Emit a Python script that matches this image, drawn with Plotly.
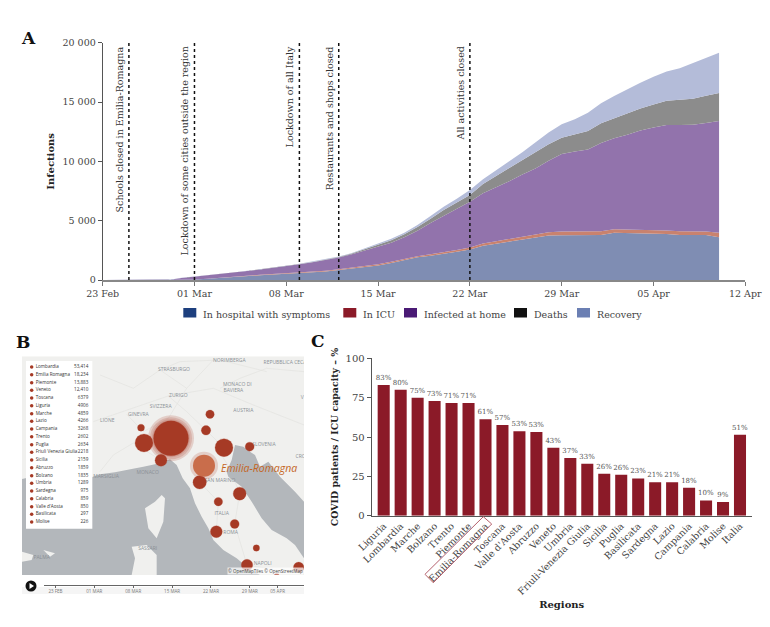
import plotly.graph_objects as go

W, H = 770, 627
SERIF = "DejaVu Serif"
SANS = "Open Sans"

# ---- panel A data: top edge of each stacked band
dates = ["2020-02-23", "2020-02-24", "2020-02-25", "2020-02-26", "2020-02-27", "2020-02-28", "2020-02-29"]
dates += ["2020-03-%02d" % d for d in range(1, 32)]
dates += ["2020-04-%02d" % d for d in range(1, 11)]

hospital_top = [0, 0, 0, 0, 0, 0, 10, 40, 100, 190, 260, 330, 400, 460, 520, 580, 650, 720, 840, 950, 1100, 1230,
                1430, 1660, 1910, 2050, 2190, 2390, 2580, 2890, 3060, 3230, 3430, 3570, 3760, 3780, 3790, 3770,
                3800, 3980, 3960, 3930, 3890, 3870, 3800, 3800, 3790, 3600]
icu_top = [0, 0, 0, 0, 0, 0, 15, 50, 115, 215, 290, 360, 435, 500, 560, 630, 705, 780, 910, 1030, 1190, 1330,
           1540, 1780, 2010, 2170, 2320, 2530, 2730, 3080, 3270, 3470, 3680, 3830, 4030, 4090, 4100, 4080,
           4110, 4270, 4260, 4220, 4180, 4170, 4100, 4090, 4090, 3990]
home_top = [0, 0, 0, 0, 0, 0, 160, 270, 365, 490, 620, 750, 880, 1010, 1150, 1320, 1500, 1690, 1890, 2170, 2500, 2790,
            3130, 3600, 4150, 4800, 5400, 5980, 6600, 7300, 7800, 8330, 8900, 9400, 10050, 10620, 10830, 11000,
            11550, 11950, 12250, 12600, 12860, 13060, 13070, 13090, 13220, 13400]
deaths_top = [0, 0, 0, 0, 0, 0, 170, 275, 372, 497, 630, 760, 890, 1025, 1165, 1340, 1525, 1725, 1935, 2235, 2610, 2940,
              3350, 3850, 4460, 5170, 5900, 6540, 7160, 8090, 8750, 9400, 10100, 10750, 11450, 11990, 12300, 12560,
              13200, 13620, 14050, 14450, 14800, 15110, 15180, 15280, 15520, 15760]
recovery_top = [0, 0, 0, 0, 0, 0, 180, 280, 380, 505, 640, 770, 900, 1040, 1180, 1360, 1545, 1750, 1970, 2280, 2680, 3030,
                3480, 3990, 4630, 5390, 6180, 6850, 7580, 8480, 9210, 10000, 10760, 11570, 12420, 13120, 13540, 14100,
                14890, 15500, 16070, 16630, 17130, 17560, 17840, 18260, 18740, 19160]

band_names = ["In hospital with symptoms", "In ICU", "Infected at home", "Deaths", "Recovery"]
band_fill = ["#7f8db3", "#c9826e", "#9273ac", "#8c8c8c", "#b4bcd9"]
band_swatch = ["#1d3f7e", "#8b1a28", "#4a1a75", "#111111", "#6b7fb3"]
swatch_left = [183.3, 343.3, 404, 514, 577]

event_dates = ["2020-02-25", "2020-03-01", "2020-03-09", "2020-03-12", "2020-03-22"]
event_labels = ["Schools closed in Emilia-Romagna", "Lockdown of some cities outside the region",
                "Lockdown of all Italy", "Restaurants and shops closed", "All activities closed"]
date_ticks = ["2020-02-23", "2020-03-01", "2020-03-08", "2020-03-15", "2020-03-22", "2020-03-29", "2020-04-05", "2020-04-12"]

# ---- panel B data: the map is read in the reference's own map units
region_names = ["Lombardia", "Emilia Romagna", "Piemonte", "Veneto", "Toscana", "Liguria", "Marche", "Lazio", "Campania",
                "Trento", "Puglia", "Friuli Venezia Giulia", "Sicilia", "Abruzzo", "Bolzano", "Umbria", "Sardegna",
                "Calabria", "Valle d'Aosta", "Basilicata", "Molise"]
region_cases = ["53,414", "18,234", "13,883", "12,410", "6379", "4906", "4859", "4266", "3268", "2602", "2634", "2218",
                "2159", "1859", "1835", "1289", "975", "859", "850", "297", "226"]
list_y = [126, 149, 173, 196, 219, 242, 266, 289, 312, 335, 359, 382, 405, 428, 452, 475, 498, 521, 545, 568, 591]

bubble_x = [513, 432, 672, 599, 483, 719, 649, 741, 618, 896, 749, 704, 630, 655, 423, 769, 830]
bubble_y = [340, 354, 368, 472, 406, 506, 620, 720, 316, 727, 365, 597, 268, 530, 308, 669, 752]
bubble_size = [35, 18, 18, 13.5, 12, 13, 12, 11.5, 9.5, 10.5, 9, 9, 8.5, 8.5, 7, 6.5, 5]
halo_x = [513, 513, 513, 612]
halo_y = [340, 340, 340, 422]
halo_size = [46, 42, 38, 28]

sea_x = [66, 110, 170, 225, 270, 300, 345, 395, 430, 465, 490, 510, 530, 548, 570, 585, 605, 625, 640, 670, 710, 740, 780, 66, 66, None,
         705, 695, 680, 685, 725, 755, 785, 815, 860, 885, 912, 912, 885, 840, 805, 780, 765, 750, 730, 705]
sea_y = [462, 452, 455, 462, 458, 448, 442, 432, 425, 418, 410, 403, 420, 460, 490, 535, 575, 610, 645, 675, 700, 725, 750, 750, 462, None,
         360, 405, 440, 455, 485, 530, 580, 615, 640, 660, 700, 530, 500, 455, 410, 425, 390, 380, 365, 360]
island_x = [485, 495, 490, 470, 445, 435, 465, 485, None, 395, 440, 470, 470, 395, 405, 395, None, 66, 100, 95, 66, 66, None, 130, 165, 150, 130]
island_y = [510, 520, 590, 640, 610, 550, 530, 510, None, 665, 660, 690, 750, 750, 700, 665, None, 680, 690, 705, 710, 680, None, 675, 685, 695, 675]
road_x = [280, 370, 505, 640, 760, 912, None, 300, 400, 480, 560, 640, None, 505, 560, 618, 672, None, 650, 690, 719, 704, 741, 830, None,
          640, 600, 599, 655, 649, None, 300, 340, 400, 483, None, 660, 720, 800, 912, None, 480, 540, 660, 800, None, 560, 505, 430, 380]
road_y = [290, 260, 213, 190, 240, 300, None, 150, 190, 135, 190, 105, None, 213, 260, 316, 368, None, 368, 430, 506, 597, 720, 735, None,
          420, 472, 472, 530, 620, None, 440, 390, 354, 406, None, 190, 160, 130, 140, None, 135, 110, 105, 140, None, 190, 280, 320, 268]
map_labels = ["NORIMBERGA", "REPUBBLICA CECA", "STRASBURGO", "MONACO DI", "BAVIERA", "ZURIGO", "SVIZZERA", "AUSTRIA", "GINEVRA",
              "LIONE", "SLOVENIA", "MONACO", "MARSIGLIA", "SAN MARINO", "ITALIA", "ROMA", "SASSARI", "NAPOLI", "PALMA", "CRO", "V"]
map_label_x = [688, 855, 522, 712, 700, 535, 482, 730, 415, 322, 792, 443, 318, 660, 665, 692, 443, 788, 125, 902, 907]
map_label_y = [106, 112, 135, 180, 198, 213, 244, 257, 268, 287, 358, 442, 454, 468, 565, 622, 671, 717, 698, 396, 219]

timeline_ticks = ["2020-02-23", "2020-03-01", "2020-03-08", "2020-03-15", "2020-03-22", "2020-03-29", "2020-04-03"]
timeline_labels = ["23 FEB", "01 MAR", "08 MAR", "15 MAR", "22 MAR", "29 MAR", "05 APR"]

# ---- panel C data
icu_regions = ["Liguria", "Lombardia", "Marche", "Bolzano", "Trento", "Piemonte", "Emilia-Romagna", "Toscana", "Valle d'Aosta",
               "Abruzzo", "Veneto", "Umbria", "Friuli-Venezia Giulia", "Sicilia", "Puglia", "Basilicata", "Sardegna", "Lazio",
               "Campania", "Calabria", "Molise", "Italia"]
icu_share = [83, 80, 75, 72.8, 71.6, 71.6, 61.2, 57.6, 53.6, 53.2, 43.2, 36.7, 33, 26.7, 26, 23.7, 21.2, 21.2, 17.8, 9.7, 8.7, 51.5]
icu_labels = ["83%", "80%", "75%", "73%", "71%", "71%", "61%", "57%", "53%", "53%", "43%", "37%", "33%", "26%", "26%", "23%",
              "21%", "21%", "18%", "10%", "9%", "51%"]


def fx(px):
    return px / W


def fy(py):
    return 1 - py / H


fig = go.Figure()

# panel A
band_tops = [hospital_top, icu_top, home_top, deaths_top, recovery_top]
for i in range(5):
    fig.add_trace(go.Scatter(x=dates, y=band_tops[i], mode="lines", line=dict(width=0), fill="tozeroy" if i == 0 else "tonexty",
                             fillcolor=band_fill[i], showlegend=False, hoverinfo="skip", xaxis="x", yaxis="y"))

annotations = []
shapes = []
for d, label in zip(event_dates, event_labels):
    shapes.append(dict(type="line", xref="x", yref="paper", x0=d, x1=d, y0=fy(280), y1=fy(42.7),
                       line=dict(color="#111111", width=1.5, dash="dot")))
    annotations.append(dict(x=d, xref="x", y=fy(44), yref="paper", text=label, textangle=-90, showarrow=False,
                            xanchor="right", yanchor="top", xshift=-2, font=dict(family=SERIF, size=9.5, color="#333333")))

# legend row under panel A
for i in range(5):
    shapes.append(dict(type="rect", xref="paper", yref="paper", x0=fx(swatch_left[i]), x1=fx(swatch_left[i] + 13),
                       y0=fy(317.5), y1=fy(308), fillcolor=band_swatch[i], line=dict(width=0)))
    annotations.append(dict(x=fx(swatch_left[i] + 18), y=fy(314), xref="paper", yref="paper", text=band_names[i], showarrow=False,
                            xanchor="left", font=dict(family=SERIF, size=9.5, color="#444444")))

# panel B
fig.add_trace(go.Scatter(x=[66, 912, 912, 66, 66], y=[94, 94, 750, 750, 94], mode="none", fill="toself", fillcolor="#f0f0ee",
                         showlegend=False, hoverinfo="skip", xaxis="x3", yaxis="y3"))
fig.add_trace(go.Scatter(x=road_x, y=road_y, mode="lines", line=dict(color="#e0e0de", width=0.6),
                         showlegend=False, hoverinfo="skip", xaxis="x3", yaxis="y3"))
fig.add_trace(go.Scatter(x=sea_x, y=sea_y, mode="none", fill="toself", fillcolor="#b3b7bb",
                         showlegend=False, hoverinfo="skip", xaxis="x3", yaxis="y3"))
fig.add_trace(go.Scatter(x=island_x, y=island_y, mode="none", fill="toself", fillcolor="#f0f0ee",
                         showlegend=False, hoverinfo="skip", xaxis="x3", yaxis="y3"))
fig.add_trace(go.Scatter(x=map_label_x, y=map_label_y, mode="text", text=map_labels, textposition="middle center",
                         textfont=dict(family=SANS, size=5, color="#8b9096"), showlegend=False, hoverinfo="skip",
                         xaxis="x3", yaxis="y3"))
fig.add_trace(go.Scatter(x=halo_x, y=halo_y, mode="markers",
                         marker=dict(size=halo_size, opacity=1, color="rgba(175,70,50,0.2)", line=dict(width=0)),
                         showlegend=False, hoverinfo="skip", xaxis="x3", yaxis="y3"))
fig.add_trace(go.Scatter(x=bubble_x, y=bubble_y, mode="markers",
                         marker=dict(size=bubble_size, opacity=1, color="#a63a25", line=dict(width=0.5, color="rgba(175,70,50,0.5)")),
                         showlegend=False, hoverinfo="skip", xaxis="x3", yaxis="y3"))
fig.add_trace(go.Scatter(x=[612], y=[422], mode="markers", marker=dict(size=22, opacity=1, color="#c96d4b", line=dict(width=0)),
                         showlegend=False, hoverinfo="skip", xaxis="x3", yaxis="y3"))
fig.add_trace(go.Scatter(x=[78, 277, 277, 78, 78], y=[108, 108, 611, 611, 108], mode="none", fill="toself", fillcolor="#ffffff",
                         showlegend=False, hoverinfo="skip", xaxis="x3", yaxis="y3"))
fig.add_trace(go.Scatter(x=[95] * 21, y=list_y, mode="markers", marker=dict(size=3.5, color="#a63a25"),
                         showlegend=False, hoverinfo="skip", xaxis="x3", yaxis="y3"))
fig.add_trace(go.Scatter(x=[107] * 21, y=list_y, mode="text", text=region_names, textposition="middle right",
                         textfont=dict(family=SANS, size=4.6, color="#333333"), showlegend=False, hoverinfo="skip",
                         xaxis="x3", yaxis="y3"))
fig.add_trace(go.Scatter(x=[265] * 21, y=list_y, mode="text", text=region_cases, textposition="middle left",
                         textfont=dict(family=SANS, size=4.6, color="#333333"), showlegend=False, hoverinfo="skip",
                         xaxis="x3", yaxis="y3"))
annotations.append(dict(x=657, xref="x3", y=430, yref="y3", text="<i>Emilia-Romagna</i>", showarrow=False, xanchor="left",
                        font=dict(family=SANS, size=10.5, color="#c4651f")))
annotations.append(dict(x=fx(303.5), xref="paper", y=fy(575), yref="paper", text="© OpenMapTiles © OpenStreetMap", showarrow=False,
                        xanchor="right", yanchor="bottom", bgcolor="rgba(255,255,255,0.7)", borderpad=0,
                        font=dict(family=SANS, size=4.5, color="#444444")))

# timeline strip below the map
shapes.append(dict(type="rect", xref="paper", yref="paper", x0=fx(22), x1=fx(304), y0=fy(594), y1=fy(587),
                   fillcolor="#f5f5f5", line=dict(width=0), layer="below"))
shapes.append(dict(type="circle", xref="paper", yref="paper", x0=fx(25.5), x1=fx(36.5), y0=fy(591.5), y1=fy(580.5),
                   fillcolor="#111111", line=dict(width=0)))
shapes.append(dict(type="path", xref="paper", yref="paper",
                   path="M %f %f L %f %f L %f %f Z" % (fx(29.5), fy(583), fx(29.5), fy(589), fx(34), fy(586)),
                   fillcolor="#ffffff", line=dict(width=0)))
fig.add_trace(go.Scatter(x=[None], y=[None], showlegend=False, hoverinfo="skip", xaxis="x4", yaxis="y4"))

# panel C
fig.add_trace(go.Bar(x=icu_regions, y=icu_share, text=icu_labels, textposition="outside", cliponaxis=False, constraintext="none",
                     textfont=dict(family=SERIF, size=7, color="#555555"), textangle=0, width=0.71,
                     marker=dict(color="#8b1a28", line=dict(width=0)), showlegend=False, hoverinfo="skip",
                     xaxis="x2", yaxis="y2"))
shapes.append(dict(type="path", xref="paper", yref="paper",
                   path="M %f %f L %f %f L %f %f L %f %f Z" % (fx(483.3), fy(516.7), fx(491.7), fy(524), fx(433.3), fy(582.7), fx(425), fy(574.3)),
                   line=dict(color="#b5606c", width=1)))

# panel letters
for letter, px, py in [("A", 19, 26), ("B", 14, 342), ("C", 318, 341)]:
    annotations.append(dict(x=fx(px), y=fy(py), xref="paper", yref="paper", text="<b>%s</b>" % letter, showarrow=False,
                            font=dict(family=SERIF, size=17, color="#111111")))

axis_font = dict(family=SERIF, size=9.5, color="#444444")
fig.update_layout(
    width=W, height=H, margin=dict(l=0, r=0, t=0, b=0, autoexpand=False), autosize=False,
    paper_bgcolor="white", plot_bgcolor="white", separators=". ", showlegend=False,
    font=dict(family=SERIF, size=10, color="#444444"),
    xaxis=dict(domain=[fx(102.67), fx(745.3)], range=["2020-02-23", "2020-04-12"], type="date", tickvals=date_ticks,
               tickformat="%d %b", ticks="outside", ticklen=4, tickcolor="#777777", showgrid=False, zeroline=False,
               showline=True, linecolor="#888888", linewidth=1.5, tickfont=axis_font, anchor="y"),
    yaxis=dict(domain=[fy(280), fy(42.67)], range=[0, 20000], tickvals=[0, 5000, 10000, 15000, 20000], tickformat=",d",
               ticks="outside", ticklen=4, tickcolor="#555555", showgrid=False, zeroline=False, showline=True,
               linecolor="#555555", linewidth=1, tickfont=axis_font, anchor="x",
               title=dict(text="<b>Infections</b>", standoff=6, font=dict(family=SERIF, size=10, color="#222222"))),
    xaxis2=dict(domain=[fx(371.7), fx(751.7)], range=[-0.707, 21.69], type="category", tickangle=-45, ticks="",
                showgrid=False, zeroline=False, showline=True, linecolor="#555555", linewidth=1, tickfont=dict(family=SERIF, size=9.5, color="#444444"),
                anchor="y2", title=dict(text="<b>Regions</b>", standoff=4, font=dict(family=SERIF, size=10, color="#222222"))),
    yaxis2=dict(domain=[fy(515.7), fy(358.3)], range=[0, 100], tickvals=[0, 25, 50, 75, 100], ticks="outside", ticklen=4,
                tickcolor="#555555", showgrid=False, zeroline=False, showline=True, linecolor="#555555", linewidth=1,
                tickfont=dict(family=SERIF, size=10, color="#444444"), anchor="x2",
                title=dict(text="<b>COVID patients / ICU capacity – %</b>", standoff=5, font=dict(family=SERIF, size=9.4, color="#222222"))),
    xaxis3=dict(domain=[fx(22), fx(304)], range=[66, 912], visible=False, anchor="y3"),
    yaxis3=dict(domain=[fy(575), fy(356.3)], range=[750, 94], visible=False, anchor="x3"),
    xaxis4=dict(domain=[fx(44.3), fx(304)], range=["2020-02-21", "2020-04-07 18:00"], type="date", tickvals=timeline_ticks, ticktext=timeline_labels,
                ticks="outside", ticklen=2, tickcolor="#666666", showgrid=False, zeroline=False, showline=True, linecolor="#666666", linewidth=0.8,
                tickfont=dict(family=SANS, size=4.5, color="#777777"), anchor="y4"),
    yaxis4=dict(domain=[fy(585), fy(577)], range=[0, 1], visible=False, anchor="x4"),
    shapes=shapes, annotations=annotations,
)

fig.write_html("out.html", config=dict(displayModeBar=False), post_script="document.body.style.margin='0';")
